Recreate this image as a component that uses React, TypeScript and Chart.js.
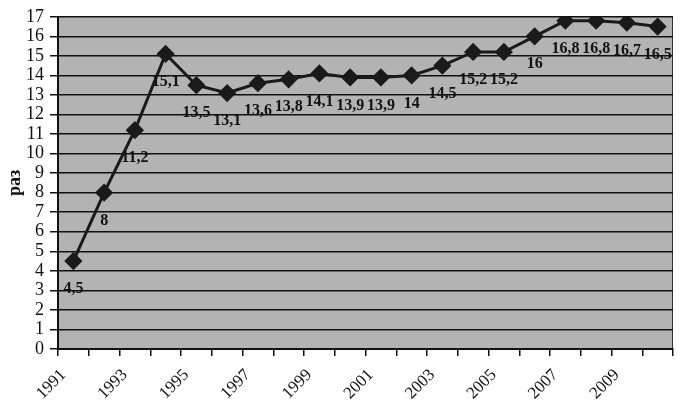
import React, { useEffect, useRef } from "react";
import { Chart, registerables } from "chart.js";

Chart.register(...registerables);

const years = [
  "1991", "1992", "1993", "1994", "1995", "1996", "1997", "1998", "1999", "2000",
  "2001", "2002", "2003", "2004", "2005", "2006", "2007", "2008", "2009", "2010",
];
const values = [4.5, 8, 11.2, 15.1, 13.5, 13.1, 13.6, 13.8, 14.1, 13.9, 13.9, 14, 14.5, 15.2, 15.2, 16, 16.8, 16.8, 16.7, 16.5];
const yTitle = "раз";

const FONT = "'Liberation Serif', 'Times New Roman', serif";

const bgPlugin = {
  id: "bgPlugin",
  beforeDraw(chart: any) {
    const { ctx, chartArea } = chart;
    ctx.save();
    ctx.fillStyle = "#b3b3b3";
    ctx.fillRect(chartArea.left, chartArea.top, chartArea.right - chartArea.left, chartArea.bottom - chartArea.top);
    ctx.strokeStyle = "#333";
    ctx.lineWidth = 1;
    ctx.beginPath();
    ctx.moveTo(chartArea.right - 0.5, chartArea.top);
    ctx.lineTo(chartArea.right - 0.5, chartArea.bottom);
    ctx.stroke();
    ctx.restore();
  },
};

const labelPlugin = {
  id: "labelPlugin",
  afterDatasetsDraw(chart: any) {
    const { ctx } = chart;
    const meta = chart.getDatasetMeta(0);
    ctx.save();
    ctx.font = "bold 16px " + FONT;
    ctx.fillStyle = "#111";
    ctx.textAlign = "center";
    ctx.textBaseline = "middle";
    meta.data.forEach((pt: any, i: number) => {
      const txt = String(values[i]).replace(".", ",");
      ctx.fillText(txt, pt.x, pt.y + 28);
    });
    ctx.restore();
  },
};

export default function App() {
  const ref = useRef<HTMLCanvasElement>(null);
  useEffect(() => {
    document.body.style.margin = "0";
    const chart = new Chart(ref.current!, {
      type: "line",
      data: {
        labels: years,
        datasets: [
          {
            data: values,
            borderColor: "#1a1a1a",
            backgroundColor: "#1a1a1a",
            borderWidth: 3,
            pointStyle: "rectRot",
            pointRadius: 7,
            pointHoverRadius: 7,
            tension: 0,
          },
        ],
      },
      options: {
        animation: false,
        responsive: false,
        layout: { padding: { top: 6, right: 1, left: 0, bottom: 0 } },
        plugins: { legend: { display: false }, tooltip: { enabled: false } },
        scales: {
          x: {
            type: "category",
            offset: true,
            afterFit(scale: any) {
              scale.height = 54;
            },
            grid: {
              offset: true,
              drawOnChartArea: false,
              drawTicks: true,
              tickLength: 7,
              color: "#111",
              lineWidth: 1.5,
            },
            border: { color: "#111", width: 2 },
            ticks: {
              autoSkip: false,
              minRotation: 45,
              maxRotation: 45,
              color: "#111",
              font: { family: FONT, size: 17 },
              padding: 9,
              labelOffset: -10,
              callback: (v: any, i: number) => (i % 2 === 0 ? years[i] : ""),
            },
          },
          y: {
            min: 0,
            max: 17,
            afterFit(scale: any) {
              scale.width = 58;
            },
            grid: {
              color: "#111",
              lineWidth: 1.5,
              tickLength: 8,
            },
            border: { color: "#111", width: 2 },
            ticks: {
              stepSize: 1,
              autoSkip: false,
              color: "#111",
              font: { family: FONT, size: 18 },
              padding: 6,
            },
            title: {
              display: true,
              text: yTitle,
              color: "#111",
              font: { family: FONT, size: 18, weight: "bold" },
              padding: { top: 5, bottom: 2 },
            },
          },
        },
      },
      plugins: [bgPlugin, labelPlugin],
    } as any);
    return () => chart.destroy();
  }, []);
  return <canvas ref={ref} width={683} height={403} style={{ display: "block" }} />;
}
